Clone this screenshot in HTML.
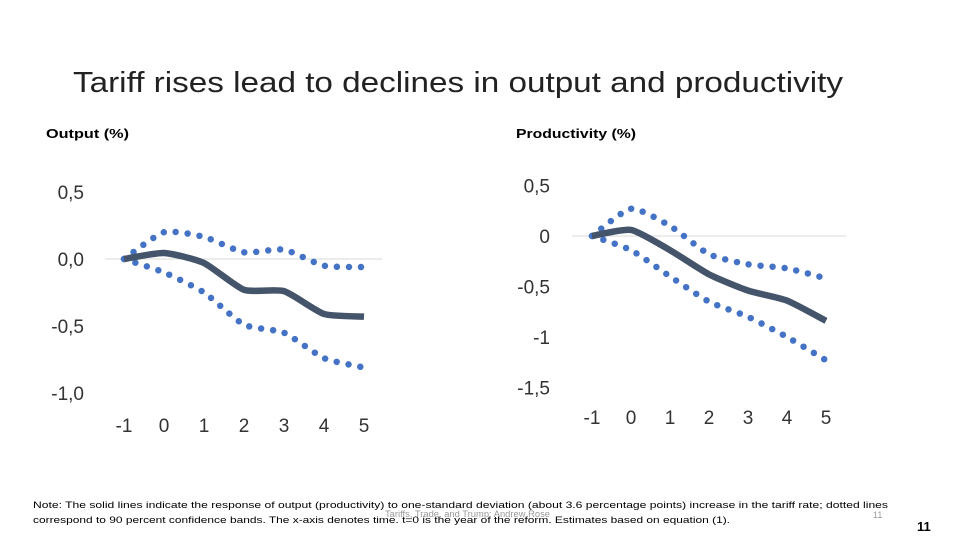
<!DOCTYPE html>
<html><head><meta charset="utf-8"><style>
body{margin:0;width:960px;height:540px;background:#fff;overflow:hidden;font-family:"Liberation Sans",sans-serif}
svg{position:absolute;left:0;top:0}
</style></head><body>
<svg width="960" height="540">
<text x="73" y="92" font-size="29" fill="#222" textLength="770" lengthAdjust="spacingAndGlyphs">Tariff rises lead to declines in output and productivity</text>
<text x="46" y="138" font-size="13" font-weight="bold" fill="#000" textLength="83" lengthAdjust="spacingAndGlyphs">Output (%)</text>
<text x="516" y="138" font-size="13" font-weight="bold" fill="#000" textLength="120" lengthAdjust="spacingAndGlyphs">Productivity (%)</text>
<g id="c1"></g>
<g id="c2"></g>
<text x="33" y="508" font-size="9.5" fill="#000" textLength="855" lengthAdjust="spacingAndGlyphs">Note: The solid lines indicate the response of output (productivity) to one-standard deviation (about 3.6 percentage points) increase in the tariff rate; dotted lines</text>
<text x="33" y="523" font-size="9.5" fill="#000" textLength="697" lengthAdjust="spacingAndGlyphs">correspond to 90 percent confidence bands. The x-axis denotes time. t=0 is the year of the reform. Estimates based on equation (1).</text>
<text x="385" y="517" font-size="9" fill="#999" textLength="165" lengthAdjust="spacingAndGlyphs">Tariffs, Trade, and Trump; Andrew Rose</text>
<text x="873" y="518" font-size="9" fill="#999">11</text>
<text x="917" y="531" font-size="13" font-weight="bold" fill="#000">11</text>
</svg>
<script>
const xCats=[-1,0,1,2,3,4,5];
const outTicks=["0,5","0,0","-0,5","-1,0"];
const outTickVals=[0.5,0,-0.5,-1];
const outPoint=[0,0.045,-0.03,-0.23,-0.24,-0.41,-0.43];
const outUpper=[0,0.2,0.165,0.05,0.07,-0.05,-0.06];
const outLower=[0,-0.1,-0.25,-0.49,-0.55,-0.74,-0.81];
const prodTicks=["0,5","0","-0,5","-1","-1,5"];
const prodTickVals=[0.5,0,-0.5,-1,-1.5];
const prodPoint=[0,0.06,-0.14,-0.38,-0.54,-0.64,-0.84];
const prodUpper=[0,0.27,0.1,-0.18,-0.28,-0.32,-0.42];
const prodLower=[0,-0.14,-0.4,-0.65,-0.8,-1.0,-1.23];
const NS='http://www.w3.org/2000/svg';
function mk(t,a,p){const e=document.createElementNS(NS,t);for(const k in a)e.setAttribute(k,a[k]);p.appendChild(e);return e;}
function smooth(pts){let d='M'+pts[0][0]+','+pts[0][1];for(let i=0;i<pts.length-1;i++){const p0=pts[i-1]||pts[i],p1=pts[i],p2=pts[i+1],p3=pts[i+2]||p2;const t=0.1;d+=' C'+(p1[0]+(p2[0]-p0[0])*t)+','+(p1[1]+(p2[1]-p0[1])*t)+' '+(p2[0]-(p3[0]-p1[0])*t)+','+(p2[1]-(p3[1]-p1[1])*t)+' '+p2[0]+','+p2[1];}return d;}
function chart(g,cfg){
 const sx=v=>cfg.x0+(v-xCats[0])*cfg.dx, sy=v=>cfg.y0-v*cfg.dy;
 const grid=mk('line',{x1:cfg.gx1,x2:cfg.gx2,y1:sy(0),y2:sy(0),stroke:'#d9d9d9','stroke-width':1},g);
 
 
 cfg.ticks.forEach((t,i)=>{const e=mk('text',{x:cfg.tx,y:sy(cfg.tickVals[i])+7,'font-size':19,'text-anchor':'end',fill:'#333'},g);e.textContent=t;
 
 });
 xCats.forEach(c=>{const e=mk('text',{x:sx(c),y:cfg.xly,'font-size':19,'text-anchor':'middle',fill:'#333'},g);e.textContent=c;
 
 });
 [[cfg.up,'upper-band'],[cfg.lo,'lower-band']].forEach(([arr,n])=>{const p=mk('path',{d:smooth(arr.map((v,i)=>[sx(xCats[i]),sy(v)])),fill:'none',stroke:'#4472c4','stroke-width':6.5,'stroke-linecap':'round','stroke-dasharray':'0 12'},g);
 
 });
 const s=mk('path',{d:smooth(cfg.pt.map((v,i)=>[sx(xCats[i]),sy(v)])),fill:'none',stroke:'#44546a','stroke-width':6.5},g);
 
 
}
chart(document.getElementById('c1'),{x0:124,dx:40,y0:259,dy:134,gx1:105,gx2:382,tx:84,xly:432,ticks:outTicks,tickVals:outTickVals,pt:outPoint,up:outUpper,lo:outLower});
chart(document.getElementById('c2'),{x0:592,dx:39,y0:236,dy:101,gx1:572,gx2:846,tx:550,xly:424,ticks:prodTicks,tickVals:prodTickVals,pt:prodPoint,up:prodUpper,lo:prodLower});
</script>
</body></html>
